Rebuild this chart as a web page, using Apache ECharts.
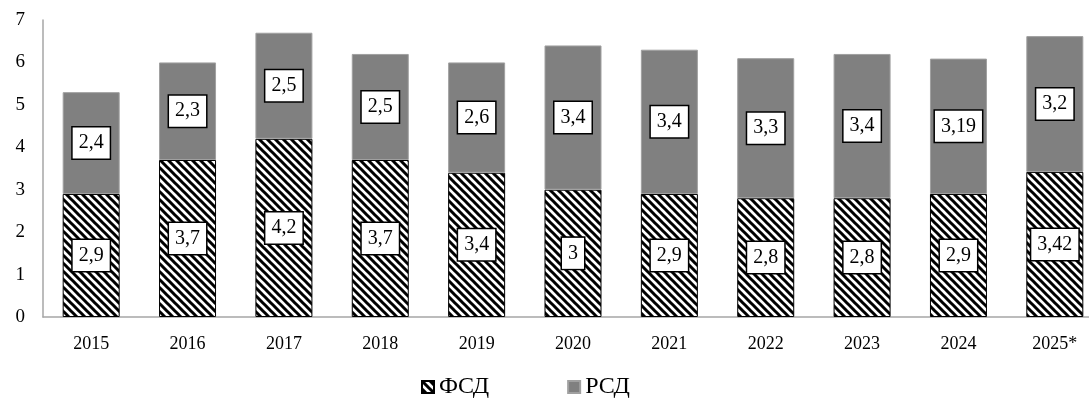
<!DOCTYPE html>
<html>
<head>
<meta charset="utf-8">
<script src="https://cdn.jsdelivr.net/npm/echarts@6/dist/echarts.min.js"></script>
<style>
  html, body { margin: 0; padding: 0; background: #fff; }
</style>
</head>
<body>
<div id="chart" style="width:1089px;height:405px;"></div>
<script>
var years = ['2015', '2016', '2017', '2018', '2019', '2020', '2021', '2022', '2023', '2024', '2025*'];
var fsd = [2.9, 3.7, 4.2, 3.7, 3.4, 3, 2.9, 2.8, 2.8, 2.9, 3.42];
var rsd = [2.4, 2.3, 2.5, 2.5, 2.6, 3.4, 3.4, 3.3, 3.4, 3.19, 3.2];

// штриховка для ФСД
function makeHatch() {
  var c = document.createElement('canvas');
  c.width = 8; c.height = 8;
  var ctx = c.getContext('2d');
  ctx.fillStyle = '#fff';
  ctx.fillRect(0, 0, 8, 8);
  ctx.strokeStyle = '#000';
  ctx.lineWidth = 3;
  ctx.beginPath();
  ctx.moveTo(-2, -2); ctx.lineTo(10, 10);
  ctx.moveTo(-6, 2); ctx.lineTo(2, 10);
  ctx.moveTo(6, -2); ctx.lineTo(14, 6);
  ctx.stroke();
  return c;
}

var font = '"Liberation Serif", "Times New Roman", serif';

function fmt(p) {
  return String(p.value).replace('.', ',');
}

var labelStyle = {
  show: true,
  position: 'inside',
  formatter: fmt,
  fontFamily: font,
  fontSize: 20,
  color: '#000',
  backgroundColor: '#fff',
  borderColor: '#000',
  borderWidth: 1.5,
  padding: [6, 6, 5, 6]
};

var myChart = echarts.init(document.getElementById('chart'));
var option = {
  animation: false,
  grid: { left: 43, width: 1060, top: 20, bottom: 88, outerBoundsMode: 'none' },
  legend: {
    left: 416,
    top: 370,
    icon: 'rect',
    itemWidth: 12,
    itemHeight: 12,
    itemGap: 78,
    textStyle: { fontFamily: font, fontSize: 24, color: '#000' },
    data: ['ФСД', 'РСД']
  },
  xAxis: {
    type: 'category',
    data: years,
    axisLine: { lineStyle: { color: '#a6a6a6', width: 1.5 } },
    axisTick: { show: false },
    axisLabel: { fontFamily: font, fontSize: 18, color: '#000', margin: 18 }
  },
  yAxis: {
    type: 'value',
    min: 0,
    max: 7,
    interval: 1,
    splitLine: { show: false },
    axisLine: { show: true, lineStyle: { color: '#a6a6a6', width: 1.5 } },
    axisTick: { show: false },
    axisLabel: { fontFamily: font, fontSize: 19, color: '#000', margin: 18 }
  },
  series: [
    {
      name: 'ФСД',
      type: 'bar',
      stack: 'total',
      barWidth: 57,
      data: fsd,
      itemStyle: {
        color: { image: makeHatch(), repeat: 'repeat' },
        borderColor: '#000',
        borderWidth: 1
      },
      label: labelStyle
    },
    {
      name: 'РСД',
      type: 'bar',
      stack: 'total',
      barWidth: 57,
      data: rsd,
      itemStyle: { color: '#808080', borderColor: '#a0a0a0', borderWidth: 1 },
      label: labelStyle
    }
  ]
};
myChart.setOption(option);
</script>
</body>
</html>
